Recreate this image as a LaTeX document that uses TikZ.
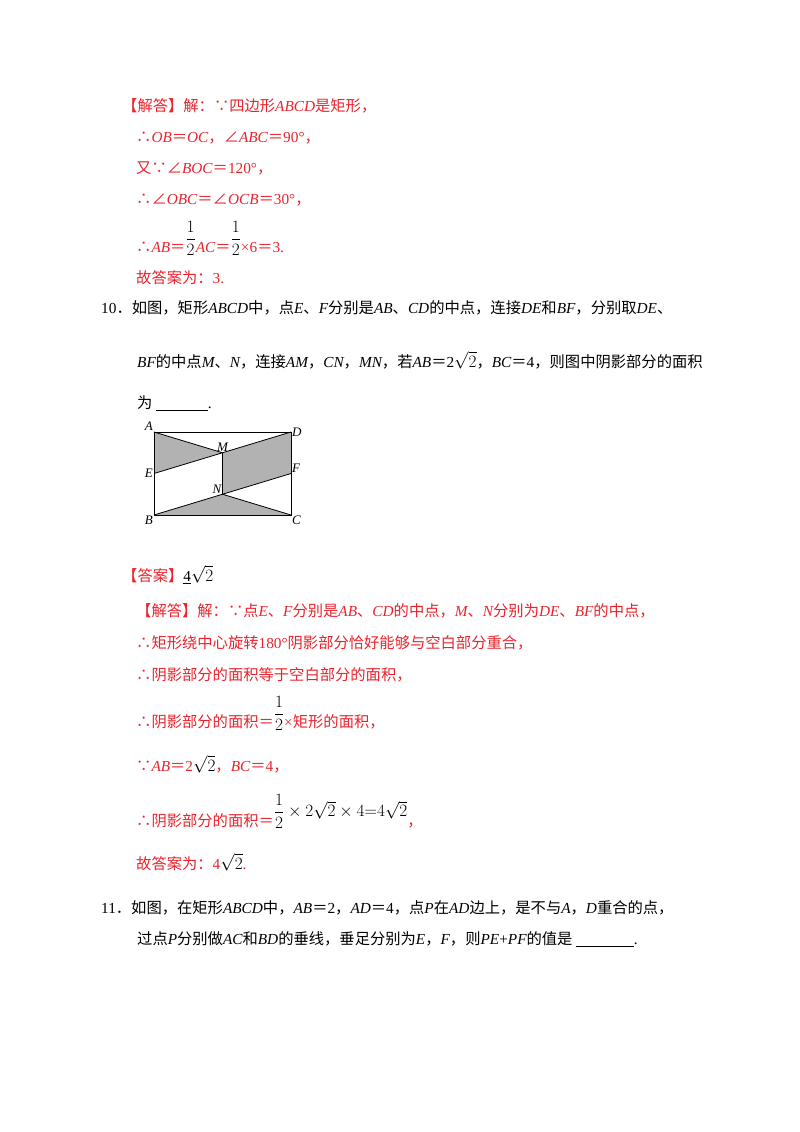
\documentclass[tikz,border=0pt]{standalone}
\usepackage{amsmath}
\usepackage{fontspec}
\setmainfont{Noto Sans CJK SC}
\newfontfamily\lib{Liberation Serif}
\newcommand\I[1]{{\lib\itshape #1}}
\newcommand\R[1]{{\lib #1}}
\newcommand\hf{\raisebox{1.0ex}{\color{black}\fontsize{17}{20}\selectfont$\dfrac{1}{2}$}}
\newcommand\sq{{\color{black}\fontsize{17}{20}\selectfont$\sqrt{2}$}}
\definecolor{ans}{RGB}{235,35,45}
\begin{document}
\begin{tikzpicture}[x=1pt,y=-1pt,
  txt/.style={anchor=base west,inner sep=0pt,font=\fontsize{15.3}{18}\selectfont},
  red/.style={txt,text=ans},
  blk/.style={txt,text=black},
  lbl/.style={inner sep=1pt,font=\lib\itshape\fontsize{13}{15}\selectfont},
  shade/.style={fill=black!30,draw=none}]
\useasboundingbox[fill=white] (0,0) rectangle (800,1132);
\node[red] (t1) at (122,111) {【解答】解：∵四边形\I{ABCD}是矩形，};
\node[red] (t2) at (136,142) {∴\I{OB}＝\I{OC}，∠\I{ABC}＝\R{90°}，};
\node[red] (t3) at (136,173) {又∵∠\I{BOC}＝\R{120°}，};
\node[red] (t4) at (136,204) {∴∠\I{OBC}＝∠\I{OCB}＝\R{30°}，};
\node[red] (t5) at (136,252) {∴\I{AB}＝\hf\I{AC}＝\hf\R{×6}＝\R{3.}};
\node[red] (t6) at (136,283) {故答案为：\R{3.}};
\node[blk] (q1) at (101,313) {\R{10}．如图，矩形\I{ABCD}中，点\I{E}、\I{F}分别是\I{AB}、\I{CD}的中点，连接\I{DE}和\I{BF}，分别取\I{DE}、};
\node[blk] (q2) at (137,367) {\I{BF}的中点\I{M}、\I{N}，连接\I{AM}，\I{CN}，\I{MN}，若\I{AB}＝\R{2}{\fontsize{17}{20}\selectfont$\sqrt{2}$}，\I{BC}＝\R{4}，则图中阴影部分的面积};
\node[blk] (q3) at (137,408) {为 \underline{\hspace{52pt}}\R{.}};
% figure
\coordinate (A) at (154,432);
\coordinate (D) at (291,432);
\coordinate (B) at (154,515);
\coordinate (C) at (291,515);
\coordinate (E) at (154,473.5);
\coordinate (F) at (291,473.5);
\coordinate (M) at (222.5,452.75);
\coordinate (N) at (222.5,494.25);
\fill[shade] (A) -- (M) -- (E) -- cycle;
\fill[shade] (M) -- (D) -- (F) -- (N) -- cycle;
\fill[shade] (B) -- (N) -- (C) -- cycle;
\draw[line width=0.9pt] (A) -- (D) -- (C) -- (B) -- cycle;
\draw[line width=0.8pt] (A) -- (M) (D) -- (E) (B) -- (F) (N) -- (C) (M) -- (N);
\node[lbl,anchor=south east] (lA) at (A) {A};
\node[lbl,anchor=west] (lD) at (D) {D};
\node[lbl,anchor=north east] (lB) at (B) {B};
\node[lbl,anchor=north west] (lC) at (C) {C};
\node[lbl,anchor=east] (lE) at (E) {E};
\node[lbl,anchor=south west] (lF) at (F) {F};
\node[lbl,anchor=south] (lM) at (M) {M};
\node[lbl,anchor=south east] (lN) at (N) {N};
% answer
\node[red] (a1) at (122,581) {【答案】{\color{black}\underline{\R{4}}\sq}};
\node[red] (a2) at (136,616) {【解答】解：∵点\I{E}、\I{F}分别是\I{AB}、\I{CD}的中点，\I{M}、\I{N}分别为\I{DE}、\I{BF}的中点，};
\node[red] (a3) at (136,648) {∴矩形绕中心旋转\R{180°}阴影部分恰好能够与空白部分重合，};
\node[red] (a4) at (136,680) {∴阴影部分的面积等于空白部分的面积，};
\node[red] (a5) at (136,727) {∴阴影部分的面积＝\hf\R{×}矩形的面积，};
\node[red] (a6) at (136,771) {∵\I{AB}＝\R{2}\sq，\I{BC}＝\R{4}，};
\node[red] (a7) at (136,826) {∴阴影部分的面积＝{\color{black}\fontsize{17}{20}\selectfont\raisebox{1.0ex}{$\dfrac{1}{2}\times2\sqrt{2}\times4{=}4\sqrt{2}$}}，};
\node[red] (a8) at (136,869) {故答案为：\R{4}\sq\R{.}};
\node[blk] (q4) at (101,913) {\R{11}．如图，在矩形\I{ABCD}中，\I{AB}＝\R{2}，\I{AD}＝\R{4}，点\I{P}在\I{AD}边上，是不与\I{A}，\I{D}重合的点，};
\node[blk] (q5) at (137,944) {过点\I{P}分别做\I{AC}和\I{BD}的垂线，垂足分别为\I{E}，\I{F}，则\I{PE}\R{+}\I{PF}的值是 \underline{\hspace{58pt}}\R{.}};
\end{tikzpicture}
\end{document}
